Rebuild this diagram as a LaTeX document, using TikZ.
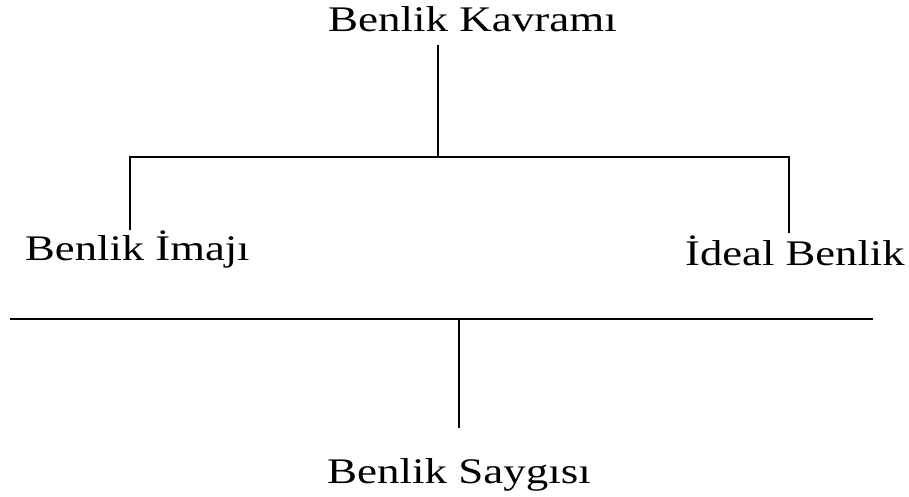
\documentclass[tikz,border=0pt]{standalone}
\usepackage{fontspec}
\setmainfont{Liberation Serif}
\begin{document}
\begin{tikzpicture}[x=1pt,y=-1pt,
  lbl/.style={anchor=base west,inner sep=0pt,font=\fontsize{36}{40}\selectfont},
  ln/.style={line width=1.6pt,black}]
\useasboundingbox (0,0) rectangle (909,496);
\node[lbl] (top) at (328,31) {\scalebox{1.25}[1]{Benlik Kavramı}};
\node[lbl] (left) at (25,260) {\scalebox{1.24}[1]{Benlik İmajı}};
\node[lbl] (right) at (685,265) {\scalebox{1.24}[1]{İdeal Benlik}};
\node[lbl] (bottom) at (327,483) {\scalebox{1.25}[1]{Benlik Saygısı}};
\coordinate (t1) at (438,45);
\coordinate (t2) at (438,157);
\coordinate (hl) at (130,157);
\coordinate (hr) at (789,157);
\coordinate (le) at (130,230);
\coordinate (re) at (789,233);
\coordinate (bl) at (10,319);
\coordinate (br) at (873,319);
\coordinate (b1) at (459,319);
\coordinate (b2) at (459,428);
\draw[ln] (t1) -- (t2);
\draw[ln] (le) -- (hl) -- (hr) -- (re);
\draw[ln] (bl) -- (br);
\draw[ln] (b1) -- (b2);
\end{tikzpicture}
\end{document}
